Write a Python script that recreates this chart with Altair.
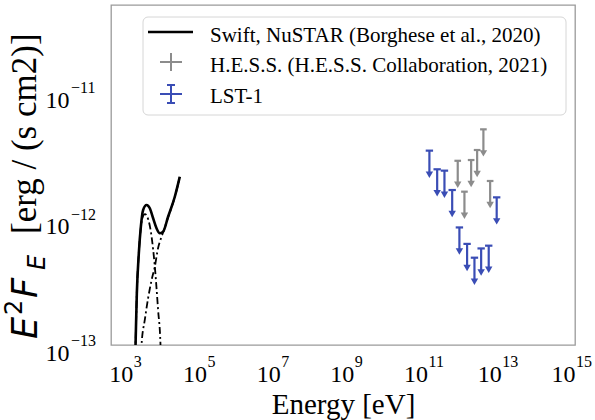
import altair as alt
import pandas as pd

# ---------------- data ----------------
# Swift/NuSTAR model (total), energies in eV, E^2 F_E in erg/(s cm2)
total_E = [1122, 1191, 1291, 1462, 1660, 1914, 2366, 2904, 3573, 4416, 5420, 6668, 9099, 13836, 18880]
total_F = [5.0e-14, 1.0e-13, 2.56e-13, 5.31e-13, 8.61e-13, 1.167e-12, 1.279e-12, 1.205e-12,
           1.005e-12, 8.38e-13, 7.64e-13, 7.87e-13, 1.033e-12, 1.486e-12, 2.138e-12]
# thermal component (dash-dot)
bb_E = [1122, 1191, 1291, 1462, 1660, 1914, 2138, 2366, 2612, 3228, 3972, 4875, 5662, 6026]
bb_F = [5.0e-14, 1.0e-13, 2.56e-13, 5.31e-13, 8.51e-13, 1.047e-12, 1.084e-12, 1.059e-12,
        9.91e-13, 7.28e-13, 4.16e-13, 1.89e-13, 1.0e-13, 5.0e-14]
# power-law component (dash-dot)
pl_E = [1641, 1730, 2128, 2612, 3228, 3972, 4875, 5781, 6668, 9099, 13836, 18880]
pl_F = [5.0e-14, 1.0e-13, 1.585e-13, 2.344e-13, 3.236e-13, 4.16e-13, 5.85e-13, 6.92e-13,
        7.76e-13, 1.023e-12, 1.479e-12, 2.128e-12]

# H.E.S.S. upper limits
hess_E = [6.58e11, 1.00e12, 1.52e12, 2.21e12, 3.27e12, 4.98e12]
hess_F = [2.86e-12, 1.63e-12, 2.90e-12, 3.48e-12, 5.07e-12, 1.98e-12]
# LST-1 upper limits
lst_E = [1.12e11, 1.82e11, 2.87e11, 4.65e11, 7.30e11, 1.18e12, 1.87e12, 2.84e12, 4.56e12, 7.50e12]
lst_F = [3.44e-12, 2.45e-12, 2.39e-12, 1.68e-12, 8.5e-13, 6.3e-13, 4.9e-13, 5.8e-13, 6.1e-13, 1.47e-12]

x_ticks = [1e3, 1e5, 1e7, 1e9, 1e11, 1e13, 1e15]
x_exps = ["3", "5", "7", "9", "11", "13", "15"]
y_ticks = [1e-13, 1e-12, 1e-11]
y_exps = ["\u221213", "\u221212", "\u221211"]

legend_labels = ["Swift, NuSTAR (Borghese et al., 2020)",
                 "H.E.S.S. (H.E.S.S. Collaboration, 2021)",
                 "LST-1"]

# ---------------- styles ----------------
BLUE = "#3a4db5"
GREY = "#8c8c8c"
SERIF = "Liberation Serif"
W, H = 464, 340

xscale = alt.Scale(type="log", domain=[10 ** 2.41, 1e15], nice=False)
yscale = alt.Scale(type="log", domain=[1e-13, 10 ** -10.312], nice=False)

xaxis = alt.Axis(values=x_ticks, labelExpr="'10'", labelFont=SERIF, labelFontSize=24,
                 labelColor="black", labelAlign="right", labelBaseline="alphabetic",
                 labelPadding=36, labelFlush=False, labelOverlap=False, labelBound=False,
                 ticks=False, tickSize=0,
                 domain=False, grid=False, title="Energy [eV]", titleFont=SERIF,
                 titleFontSize=29, titleFontWeight="normal", titleColor="black",
                 titleX=W / 2, titleY=68, titleAlign="center", titleBaseline="alphabetic")
yaxis = alt.Axis(values=y_ticks, labelExpr="'10'", labelFont=SERIF, labelFontSize=24,
                 labelColor="black", labelAlign="right", labelBaseline="alphabetic",
                 labelPadding=42, labelOffset=15, labelFlush=False, labelOverlap=False,
                 labelBound=False, ticks=False, tickSize=0, domain=False, grid=False, title=None)


def X(field):
    return alt.X(field, type="quantitative", scale=xscale, axis=xaxis)


def Y(field):
    return alt.Y(field, type="quantitative", scale=yscale, axis=yaxis)


# ---------------- curves ----------------
df_total = pd.DataFrame({"E": total_E, "F": total_F})
df_bb = pd.DataFrame({"E": bb_E, "F": bb_F})
df_pl = pd.DataFrame({"E": pl_E, "F": pl_F})

total = alt.Chart(df_total).mark_line(color="black", strokeWidth=2.6, clip=True,
                                      interpolate="monotone").encode(x=X("E"), y=Y("F"))
bb = alt.Chart(df_bb).mark_line(color="black", strokeWidth=1.8, strokeDash=[7, 3, 2, 3], clip=True,
                                interpolate="monotone").encode(x=X("E"), y=Y("F"))
pl = alt.Chart(df_pl).mark_line(color="black", strokeWidth=1.8, strokeDash=[7, 3, 2, 3], clip=True,
                                interpolate="monotone").encode(x=X("E"), y=Y("F"))


# ---------------- upper limits ----------------
def upper_limits(E, F, color, half_dec):
    df = pd.DataFrame({"E": E, "F": F})
    df["E_lo"] = df["E"] * 10 ** (-half_dec)
    df["E_hi"] = df["E"] * 10 ** (half_dec)
    df["F_lo"] = df["F"] * 10 ** (-0.19)
    base = alt.Chart(df)
    stem = base.mark_rule(color=color, strokeWidth=2.2).encode(x=X("E"), y=Y("F"), y2="F_lo")
    cap = base.mark_rule(color=color, strokeWidth=2.2).encode(x=X("E_lo"), x2="E_hi", y=Y("F"))
    head = base.mark_point(shape="triangle-down", filled=True, size=55, color=color,
                           opacity=1).encode(x=X("E"), y=Y("F_lo"))
    return [stem, cap, head]


hess_layers = upper_limits(hess_E, hess_F, GREY, 0.09)
lst_layers = upper_limits(lst_E, lst_F, BLUE, 0.10)

# ---------------- superscripts of tick labels ----------------
x_exp = alt.Chart(pd.DataFrame({"E": x_ticks, "t": x_exps})).mark_text(
    align="left", baseline="alphabetic", font=SERIF, fontSize=16, dx=1, color="black"
).encode(x=X("E"), y=alt.value(361.7), text="t:N")
y_exp = alt.Chart(pd.DataFrame({"F": y_ticks, "t": y_exps})).mark_text(
    align="left", baseline="alphabetic", font=SERIF, fontSize=16, dy=1, color="black"
).encode(x=alt.value(-40), y=Y("F"), text="t:N")

# ---------------- y-axis title built from pieces ----------------
one = pd.DataFrame({"a": [0]})


def ytitle_piece(txt, font, size, xb, ys, italic=False):
    kw = dict(text=txt, font=font, fontSize=size, angle=270, align="left",
              baseline="alphabetic", color="black")
    if italic:
        kw["fontStyle"] = "italic"
    return alt.Chart(one).mark_text(**kw).encode(x=alt.value(xb), y=alt.value(ys))


ytitle = [
    ytitle_piece("E", "DejaVu Sans", 35, -74, 334, italic=True),
    ytitle_piece("2", "DejaVu Sans", 24, -89, 310),
    ytitle_piece("F", "DejaVu Sans", 35, -74, 293, italic=True),
    ytitle_piece("E", "DejaVu Sans", 24, -66, 265, italic=True),
    ytitle_piece("[erg / (s cm2)]", SERIF, 35, -75, 229),
]

# ---------------- legend ----------------
leg_box = alt.Chart(one).mark_rect(fill="white", stroke="#d6d6d6", strokeWidth=1,
                                   cornerRadius=5).encode(
    x=alt.value(32), x2=alt.value(455), y=alt.value(12), y2=alt.value(110))
leg_line = alt.Chart(one).mark_rule(color="black", strokeWidth=2.6).encode(
    x=alt.value(37), x2=alt.value(82), y=alt.value(27))
leg_g_h = alt.Chart(one).mark_rule(color=GREY, strokeWidth=2).encode(
    x=alt.value(49), x2=alt.value(71), y=alt.value(57))
leg_g_v = alt.Chart(one).mark_rule(color=GREY, strokeWidth=2).encode(
    x=alt.value(60), y=alt.value(48), y2=alt.value(66))
leg_b_h = alt.Chart(one).mark_rule(color=BLUE, strokeWidth=2).encode(
    x=alt.value(49), x2=alt.value(71), y=alt.value(89))
leg_b_v = alt.Chart(one).mark_rule(color=BLUE, strokeWidth=2).encode(
    x=alt.value(60), y=alt.value(80), y2=alt.value(98))
leg_b_c1 = alt.Chart(one).mark_rule(color=BLUE, strokeWidth=2).encode(
    x=alt.value(56), x2=alt.value(64), y=alt.value(80))
leg_b_c2 = alt.Chart(one).mark_rule(color=BLUE, strokeWidth=2).encode(
    x=alt.value(56), x2=alt.value(64), y=alt.value(98))
leg_text = [
    alt.Chart(one).mark_text(text=lbl, font=SERIF, fontSize=21, align="left",
                             baseline="alphabetic", color="black").encode(
        x=alt.value(99), y=alt.value(yb))
    for lbl, yb in zip(legend_labels, [37, 67, 98])
]

layers = ([total, bb, pl] + hess_layers + lst_layers + [x_exp, y_exp] + ytitle +
          [leg_box, leg_line, leg_g_h, leg_g_v, leg_b_h, leg_b_v, leg_b_c1, leg_b_c2] + leg_text)

chart = alt.layer(*layers).properties(
    width=W, height=H,
    padding={"left": 111, "top": 5, "right": 20, "bottom": 75},
    autosize=alt.AutoSizeParams(type="none"),
    background="white",
).configure_view(stroke="#9a9a9a", strokeWidth=1.3)

chart.save("out.html", embed_options={"renderer": "svg", "actions": False})
